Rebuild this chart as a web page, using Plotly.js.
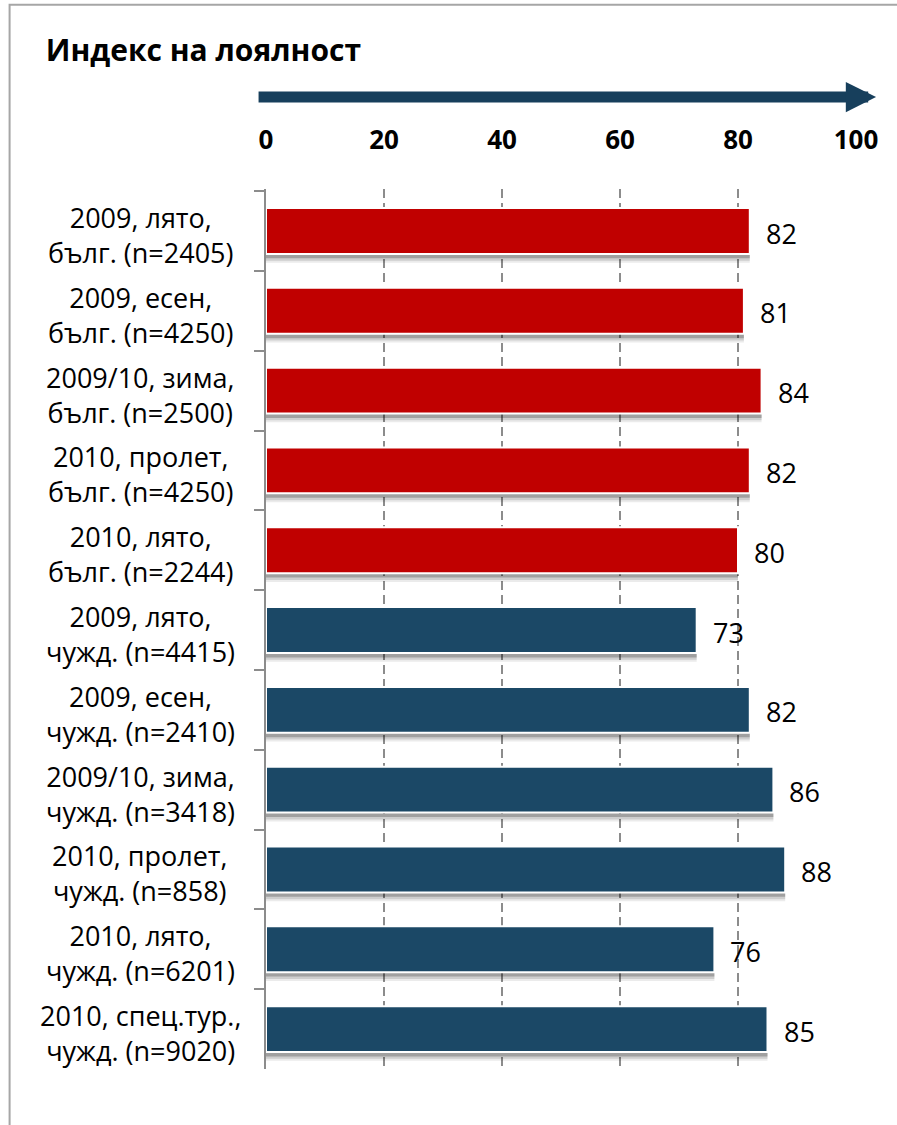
<!DOCTYPE html>
<html>
<head>
<meta charset="utf-8">
<script src="https://cdn.plot.ly/plotly-3.0.1.min.js"></script>
<style>html,body{margin:0;padding:0;background:#fff;}#chart{width:897px;height:1125px;}</style>
</head>
<body>
<div id="chart"></div>
<script>
const categories = [
  "2009, лято,<br>бълг. (n=2405)",
  "2009, есен,<br>бълг. (n=4250)",
  "2009/10, зима,<br>бълг. (n=2500)",
  "2010, пролет,<br>бълг. (n=4250)",
  "2010, лято,<br>бълг. (n=2244)",
  "2009, лято,<br>чужд. (n=4415)",
  "2009, есен,<br>чужд. (n=2410)",
  "2009/10, зима,<br>чужд. (n=3418)",
  "2010, пролет,<br>чужд. (n=858)",
  "2010, лято,<br>чужд. (n=6201)",
  "2010, спец.тур.,<br>чужд. (n=9020)"
];
const values = [82, 81, 84, 82, 80, 73, 82, 86, 88, 76, 85];
const groups = ["бълг.", "бълг.", "бълг.", "бълг.", "бълг.", "чужд.", "чужд.", "чужд.", "чужд.", "чужд.", "чужд."];
const tickValues = [0, 20, 40, 60, 80, 100];
const titleText = "Индекс на лоялност";

const groupColors = {"бълг.": "#C00000", "чужд.": "#1B4866"};
const FONT = "Open Sans, Noto Sans, sans-serif";
const barW = 0.575;

function shadowTrace(shift, alpha) {
  return {
    type: "bar", orientation: "h", y: categories, x: values,
    width: barW, offset: -barW/2 + shift,
    marker: {color: "rgba(0,0,0," + alpha + ")", line: {width: 0}},
    hoverinfo: "skip", showlegend: false
  };
}
const bars = {
  type: "bar", orientation: "h", y: categories, x: values,
  width: barW, offset: -barW/2,
  marker: {color: groups.map(g => groupColors[g]), line: {color: "#ffffff", width: 2}},
  showlegend: false
};

const annotations = [];
categories.forEach((c, i) => {
  annotations.push({
    xref: "paper", yref: "y", x: -0.213, y: c, text: c,
    showarrow: false, xanchor: "center", yanchor: "middle", align: "center",
    font: {family: FONT, size: 27, color: "#000"}, yshift: -4
  });
  annotations.push({
    xref: "x", yref: "y", x: values[i], y: c, text: String(values[i]),
    showarrow: false, xanchor: "left", yanchor: "middle", xshift: 14, yshift: -2,
    font: {family: FONT, size: 27, color: "#000"}
  });
});
// top arrow above the axis
annotations.push({
  xref: "paper", yref: "paper", x: 1.034, y: 1.1045,
  axref: "pixel", ayref: "pixel", ax: -619, ay: 0,
  showarrow: true, arrowhead: 2, arrowsize: 0.55, arrowwidth: 11,
  arrowcolor: "#173F5C", text: ""
});

const layout = {
  width: 897, height: 1125,
  margin: {l: 266, r: 41, t: 189, b: 56},
  paper_bgcolor: "#ffffff", plot_bgcolor: "#ffffff",
  barmode: "overlay",
  title: {
    text: "<b>" + titleText + "</b>",
    xref: "container", yref: "container", x: 0.051, y: 0.955,
    xanchor: "left", yanchor: "middle",
    font: {family: FONT, size: 30, color: "#000"}
  },
  xaxis: {
    side: "top", range: [0, 100], tickvals: tickValues,
    ticktext: tickValues.map(v => "<b>" + v + "</b>"),
    tickfont: {family: FONT, size: 26, color: "#000"},
    showgrid: true, gridcolor: "#8C8C8C", gridwidth: 2, griddash: "9px,5px",
    zeroline: false, showline: false, ticks: "", ticklabelstandoff: 34,
    fixedrange: true
  },
  yaxis: {
    type: "category", autorange: "reversed",
    showticklabels: false, tickson: "boundaries", ticks: "outside", ticklen: 10,
    tickcolor: "#8C8C8C", tickwidth: 2,
    showline: true, linecolor: "#8C8C8C", linewidth: 2,
    showgrid: false, zeroline: false, fixedrange: true
  },
  annotations: annotations,
  shapes: [{
    type: "rect", xref: "paper", yref: "paper",
    x0: -0.4346, x1: 1.1, y0: -0.1, y1: 1.2095,
    line: {color: "#A6A6A6", width: 2}, fillcolor: "rgba(0,0,0,0)", layer: "below"
  }]
};

Plotly.newPlot("chart", [shadowTrace(0.11, 0.08), shadowTrace(0.085, 0.12), shadowTrace(0.055, 0.22), bars], layout, {displayModeBar: false, staticPlot: true});
</script>
</body>
</html>
